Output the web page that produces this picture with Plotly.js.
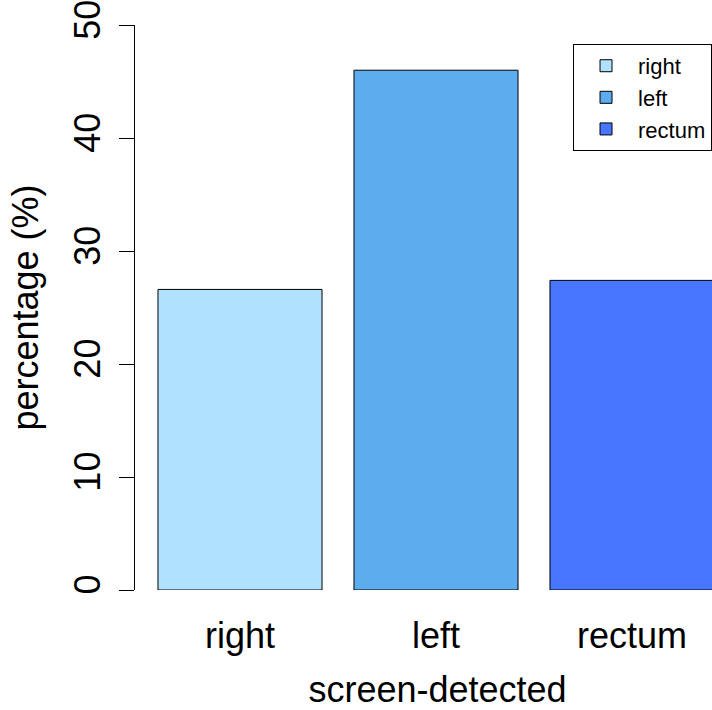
<!DOCTYPE html>
<html>
<head>
<meta charset="utf-8">
<script src="https://cdn.plot.ly/plotly-3.0.1.min.js"></script>
<style>
  html, body { margin: 0; padding: 0; overflow: hidden; background: #ffffff; }
  #chart { width: 760px; height: 710px; }
</style>
</head>
<body>
<div id="chart"></div>
<script>
// Share of screen-detected tumours by site
const categories = ["right", "left", "rectum"];
const percentages = [26.6, 46.0, 27.4];
const barColors = ["#B0E2FF", "#5CACEE", "#4876FF"];
const yTickValues = [0, 10, 20, 30, 40, 50];

const FONT = "Liberation Sans, Arial, Helvetica, sans-serif";

// one trace per site so each gets its own legend entry
const traces = categories.map((name, i) => ({
  type: "bar",
  name: name,
  x: [name],
  y: [percentages[i]],
  width: 0.837,
  marker: { color: barColors[i], line: { color: "#000000", width: 1 } },
  hoverinfo: "x+y"
}));

const layout = {
  width: 760,
  height: 710,
  margin: { l: 135, r: 20, t: 25, b: 120, autoexpand: false },
  paper_bgcolor: "#ffffff",
  plot_bgcolor: "#ffffff",
  barmode: "overlay",
  showlegend: true,
  font: { family: FONT, color: "#000000", size: 36 },
  xaxis: {
    type: "category",
    categoryorder: "array",
    categoryarray: categories,
    range: [-0.5357, 2.5510],
    showline: false,
    showgrid: false,
    zeroline: false,
    ticks: "",
    tickfont: { family: FONT, size: 36, color: "#000000" },
    ticklabelstandoff: 21,
    title: { text: "screen-detected", font: { family: FONT, size: 36, color: "#000000" } }
  },
  yaxis: {
    range: [0, 50.001],
    tickmode: "array",
    tickvals: yTickValues,
    ticktext: yTickValues.map(String),
    ticklabeloverflow: "allow",
    showline: true,
    linecolor: "#000000",
    linewidth: 1,
    showgrid: false,
    zeroline: false,
    ticks: "outside",
    ticklen: 15,
    tickwidth: 1,
    tickcolor: "#000000",
    tickangle: -90,
    ticklabelstandoff: 5,
    tickfont: { family: FONT, size: 36, color: "#000000" },
    automargin: true,
    title: { text: "percentage (%)", standoff: 16, font: { family: FONT, size: 36, color: "#000000" } }
  },
  legend: {
    x: 0.7240,
    y: 0.9665,
    xanchor: "left",
    yanchor: "top",
    bgcolor: "#ffffff",
    bordercolor: "#000000",
    borderwidth: 1,
    itemwidth: 54,
    font: { family: FONT, size: 22, color: "#000000" }
  }
};

Plotly.newPlot("chart", traces, layout, { displayModeBar: false, staticPlot: true });
</script>
</body>
</html>
